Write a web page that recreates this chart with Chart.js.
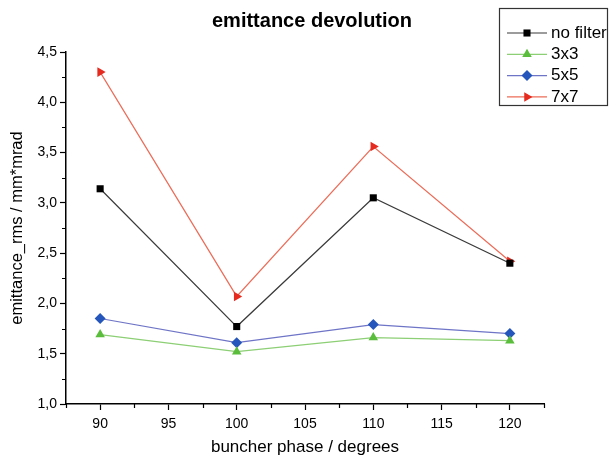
<!DOCTYPE html>
<html>
<head>
<meta charset="utf-8">
<script src="https://cdn.jsdelivr.net/npm/chart.js@4"></script>
<style>
  html, body { margin: 0; padding: 0; background: #fff; }
  #wrap { width: 610px; height: 458px; position: relative; }
</style>
</head>
<body>
<div id="wrap"><canvas id="chart"></canvas></div>
<script>
const chartTitle = "emittance devolution";
const phases = [90, 100, 110, 120];
const noFilter = [3.14, 1.77, 3.05, 2.40];
const filter3x3 = [1.69, 1.52, 1.66, 1.63];
const filter5x5 = [1.85, 1.61, 1.79, 1.70];
const filter7x7 = [4.30, 2.07, 3.56, 2.42];

const xTicks = [90, 95, 100, 105, 110, 115, 120];
const xMinorTicks = [87.5, 92.5, 97.5, 102.5, 107.5, 112.5, 117.5, 122.5];
const yTicks = [1.0, 1.5, 2.0, 2.5, 3.0, 3.5, 4.0, 4.5];
const yMinorTicks = [1.25, 1.75, 2.25, 2.75, 3.25, 3.75, 4.25];

const FONT = "Liberation Sans, Arial, sans-serif";

function toPoints(values) {
  return phases.map((x, i) => ({ x, y: values[i] }));
}

function series(label, values, lineColor, markColor, style, rotation, radius) {
  return {
    label,
    data: toPoints(values),
    showLine: true,
    borderColor: lineColor,
    borderWidth: 1.2,
    backgroundColor: markColor,
    pointBackgroundColor: markColor,
    pointBorderColor: markColor,
    pointBorderWidth: 0,
    pointStyle: style,
    rotation: rotation,
    pointRadius: radius,
    tension: 0,
  };
}

const datasets = [
  series("no filter", noFilter, "#3a3a3a", "#000000", "rect", 0, 5),
  series("3x3", filter3x3, "#8ccf74", "#5bbd3c", "triangle", 0, 5.5),
  series("5x5", filter5x5, "#6e74c6", "#2456bb", "rectRot", 0, 5.5),
  series("7x7", filter7x7, "#ec6c58", "#e52a1f", "triangle", 90, 5.5),
];

// title, minor ticks and the legend box
const extras = {
  id: "extras",
  afterDraw(c) {
    const ctx = c.ctx;
    const x = c.scales.x, y = c.scales.y;
    ctx.save();

    ctx.fillStyle = "#000";
    ctx.font = "bold 20px " + FONT;
    ctx.textAlign = "center";
    ctx.textBaseline = "middle";
    ctx.fillText(chartTitle, 312, 21);

    ctx.strokeStyle = "#000";
    ctx.lineWidth = 1.2;
    ctx.beginPath();
    for (const v of xMinorTicks) {
      const px = Math.round(x.getPixelForValue(v)) + 0.5;
      ctx.moveTo(px, y.bottom);
      ctx.lineTo(px, y.bottom + 4);
    }
    for (const v of yMinorTicks) {
      const py = Math.round(y.getPixelForValue(v)) + 0.5;
      ctx.moveTo(x.left, py);
      ctx.lineTo(x.left - 4, py);
    }
    ctx.stroke();

    // legend
    ctx.lineWidth = 1.2;
    ctx.strokeStyle = "#333";
    ctx.strokeRect(499.5, 8.5, 108, 97);
    ctx.font = "17px " + FONT;
    ctx.textBaseline = "middle";
    ctx.textAlign = "left";
    c.data.datasets.forEach((ds, i) => {
      const ly = 33 + i * 21.3;
      ctx.strokeStyle = ds.borderColor;
      ctx.lineWidth = 1.2;
      ctx.beginPath();
      ctx.moveTo(507, ly);
      ctx.lineTo(547, ly);
      ctx.stroke();
      ctx.fillStyle = ds.pointBackgroundColor;
      Chart.helpers.drawPoint(ctx, {
        pointStyle: ds.pointStyle,
        rotation: ds.rotation,
        radius: ds.pointRadius,
        borderWidth: 0,
      }, 527, ly);
      ctx.fillStyle = "#000";
      ctx.fillText(ds.label, 551, ly);
    });
    ctx.restore();
  },
};

new Chart(document.getElementById("chart"), {
  type: "scatter",
  data: { datasets },
  options: {
    responsive: true,
    maintainAspectRatio: false,
    animation: false,
    layout: { padding: { top: 52, right: 66, bottom: 0, left: 0 } },
    plugins: {
      legend: { display: false },
      tooltip: { enabled: false },
      title: { display: false },
    },
    scales: {
      x: {
        type: "linear",
        min: 87.5,
        max: 122.5,
        afterBuildTicks: (s) => { s.ticks = xTicks.map((v) => ({ value: v })); },
        afterFit: (s) => { s.height = 54; },
        border: { display: true, color: "#000", width: 1.5 },
        grid: { display: true, drawOnChartArea: false, drawTicks: true, tickLength: 6, color: "#000", tickWidth: 1.2 },
        ticks: { color: "#000", font: { family: FONT, size: 14 }, padding: 6, maxRotation: 0 },
        title: {
          display: true,
          text: "buncher phase / degrees",
          color: "#000",
          font: { family: FONT, size: 17 },
          padding: { top: 2, bottom: 0 },
        },
      },
      y: {
        type: "linear",
        min: 1,
        max: 4.5,
        afterBuildTicks: (s) => { s.ticks = yTicks.map((v) => ({ value: v })); },
        afterFit: (s) => { s.width = 66; },
        border: { display: true, color: "#000", width: 1.5 },
        grid: { display: true, drawOnChartArea: false, drawTicks: true, tickLength: 6, color: "#000", tickWidth: 1.2 },
        ticks: {
          color: "#000",
          font: { family: FONT, size: 14 },
          padding: 3,
          callback: (v) => v.toFixed(1).replace(".", ","),
        },
        title: {
          display: true,
          text: "emittance_rms / mm*mrad",
          color: "#000",
          font: { family: FONT, size: 16.5 },
          padding: { top: 7.5, bottom: 0 },
        },
      },
    },
  },
  plugins: [extras],
});
</script>
</body>
</html>
